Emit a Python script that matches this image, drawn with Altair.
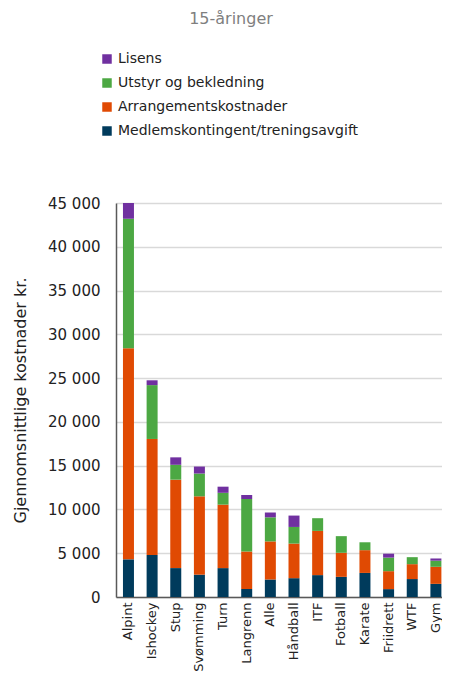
import altair as alt
import pandas as pd

sports = ["Alpint", "Ishockey", "Stup", "Svømming", "Turn", "Langrenn", "Alle",
          "Håndball", "ITF", "Fotball", "Karate", "Friidrett", "WTF", "Gym"]
series = ["Lisens", "Utstyr og bekledning", "Arrangementskostnader",
          "Medlemskontingent/treningsavgift"]
colors = ["#7030a0", "#4ca843", "#e04a03", "#003b5c"]

medlem = [4300, 4800, 3300, 2550, 3300, 900, 2000, 2150, 2500, 2300, 2750, 900, 2050, 1500]
arrang = [24100, 13250, 10100, 8950, 7250, 4300, 4350, 3950, 5050, 2750, 2600, 2050, 1700, 1950]
utstyr = [14800, 6150, 1700, 2600, 1350, 6000, 2750, 1900, 1450, 1900, 900, 1550, 800, 700]
lisens = [1800, 550, 850, 800, 700, 450, 550, 1300, 0, 0, 0, 450, 0, 250]

rows = []
for vals, name, order in [(medlem, series[3], 0), (arrang, series[2], 1),
                          (utstyr, series[1], 2), (lisens, series[0], 3)]:
    for s, v in zip(sports, vals):
        rows.append({"Idrett": s, "Kategori": name, "Verdi": v, "Orden": order})
df = pd.DataFrame(rows)

font = "DejaVu Sans"

chart = alt.Chart(df).mark_bar().encode(
    x=alt.X("Idrett:N", sort=sports,
            scale=alt.Scale(paddingInner=0.535, paddingOuter=0.16, align=0.92),
            axis=alt.Axis(title=None, labelAngle=-90, labelAlign="right",
                          labelBaseline="middle", labelFontSize=13,
                          labelColor="#222222", labelFont=font, ticks=False,
                          labelPadding=5, domainColor="#595959", domainWidth=1.5)),
    y=alt.Y("Verdi:Q", stack="zero",
            scale=alt.Scale(domain=[0, 45000], nice=False),
            axis=alt.Axis(title="Gjennomsnittlige kostnader kr.",
                          values=list(range(0, 45001, 5000)),
                          labelExpr="datum.value >= 1000 ? floor(datum.value / 1000) + ' 000' : '0'",
                          labelFontSize=15, labelColor="#222222", labelFont=font,
                          ticks=False, labelPadding=16,
                          domainColor="#595959", domainWidth=1.5,
                          gridColor="#d9d9d9", gridWidth=1.5,
                          titleFontSize=16, titleFont=font, titleFontWeight="normal",
                          titleColor="#222222", titleAngle=-90, titleX=-96, titleY=197,
                          titleAlign="center", titleBaseline="middle")),
    color=alt.Color("Kategori:N",
                    scale=alt.Scale(domain=series, range=colors),
                    legend=alt.Legend(title=None, orient="none", legendX=-16, legendY=-151,
                                      symbolType="square", symbolSize=90,
                                      symbolStrokeWidth=0, labelLimit=400,
                                      labelFontSize=14, labelFont=font,
                                      labelColor="#222222", rowPadding=10,
                                      labelOffset=4, padding=0)),
    order=alt.Order("Orden:Q", sort="ascending"),
).properties(
    width=326, height=394,
    title=alt.TitleParams("15-åringer", fontSize=16, color="#7f7f7f",
                          fontWeight="normal", font=font, anchor="middle",
                          frame="group", dx=-48, offset=25),
    autosize=alt.AutoSizeParams(type="none"),
    padding={"left": 108, "top": 195, "right": 0, "bottom": 75},
).configure_view(stroke=None)

chart.save("out.html", embed_options={"renderer": "svg", "actions": False})
